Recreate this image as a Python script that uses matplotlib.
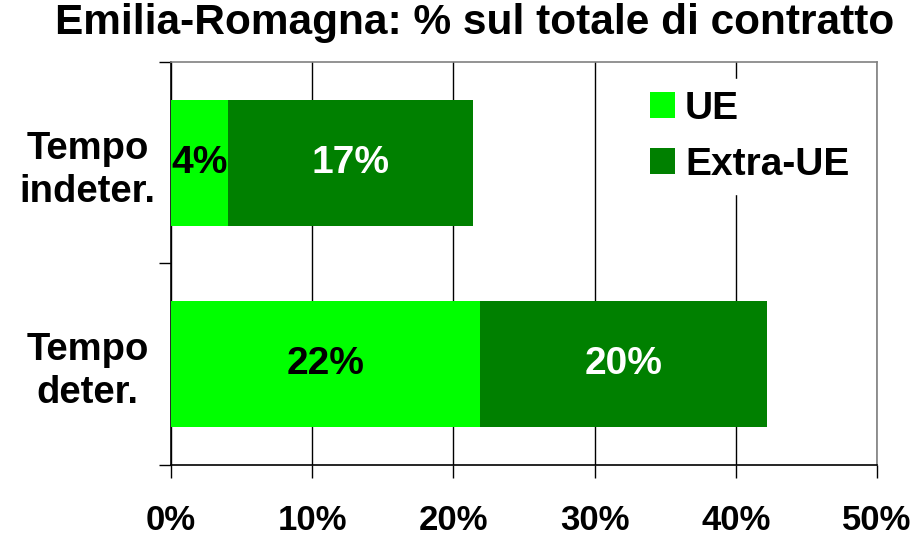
import matplotlib
matplotlib.use("Agg")
import matplotlib.pyplot as plt
from matplotlib.ticker import FixedLocator

plt.rcParams['font.family'] = ['Liberation Sans', 'DejaVu Sans']
plt.rcParams['font.weight'] = 'bold'

categories = ["Tempo\nindeter.", "Tempo\ndeter."]
ue = [4.0, 21.9]
extra_ue = [17.4, 20.3]
ue_labels = ["4%", "22%"]
extra_labels = ["17%", "20%"]
x_ticks = [0, 10, 20, 30, 40, 50]

fig = plt.figure(figsize=(9.17, 5.38), dpi=100)
ax = fig.add_axes([0.1865, 0.1357, 0.7699, 0.7491])

ypos = list(range(len(categories)))
ax.barh(ypos, ue, height=0.625, color="#00ff00", label="UE", zorder=3)
ax.barh(ypos, extra_ue, left=ue, height=0.625, color="#008000", label="Extra-UE", zorder=3)

for i in ypos:
    ax.text(ue[i] / 2, i, ue_labels[i], ha="center", va="center",
            fontsize=28, fontweight="bold", color="black", zorder=4)
    ax.text(ue[i] + extra_ue[i] / 2, i, extra_labels[i], ha="center", va="center",
            fontsize=28, fontweight="bold", color="white", zorder=4)

ax.set_xlim(0, 50)
ax.set_ylim(1.5, -0.5)
ax.set_xticks(x_ticks)
ax.set_xticklabels([f"{t}%" for t in x_ticks], fontsize=25, fontweight="bold")
ax.set_yticks(ypos)
ax.set_yticklabels(categories, fontsize=27.5, fontweight="bold", ha="center",
                   linespacing=1.25)
ax.yaxis.set_minor_locator(FixedLocator([-0.5, 0.5, 1.5]))
ax.tick_params(axis="y", which="major", length=0, pad=60)
ax.tick_params(axis="y", which="minor", length=9, width=1, direction="out")
ax.tick_params(axis="x", length=9, width=1, direction="out", pad=19)

ax.grid(axis="x", color="black", linewidth=1, zorder=1)
for s in ["left", "bottom"]:
    ax.spines[s].set_color("black")
    ax.spines[s].set_linewidth(1.2)
for s in ["top", "right"]:
    ax.spines[s].set_color("#808080")
    ax.spines[s].set_linewidth(1.2)

leg = ax.legend(loc="upper right", bbox_to_anchor=(1.005, 1.005), frameon=True,
                fontsize=28, handlelength=0.65, handleheight=0.65,
                handletextpad=0.25, labelspacing=0.5, borderpad=0.3,
                fancybox=False)
leg.get_frame().set_edgecolor("white")
leg.get_frame().set_facecolor("white")
leg.get_frame().set_alpha(1)
leg.set_zorder(5)

fig.suptitle("Emilia-Romagna: % sul totale di contratto", fontsize=30.5,
             fontweight="bold", x=0.518, y=0.995)

fig.savefig("out.png", dpi=100)
